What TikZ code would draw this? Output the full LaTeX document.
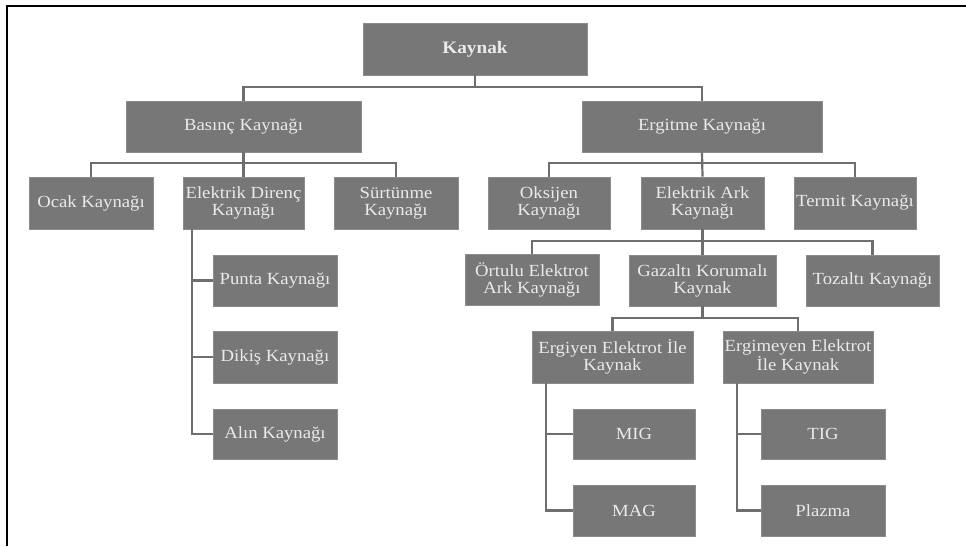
\documentclass[tikz,border=0pt]{standalone}
\usepackage{fontspec}
\setmainfont{Liberation Serif}[FakeStretch=1.1]
\definecolor{boxfill}{HTML}{777777}
\definecolor{boxedge}{HTML}{8C8C8C}
\definecolor{boxtext}{HTML}{EAEAEA}
\definecolor{linkcol}{HTML}{6E6E6E}
\tikzset{
  box/.style={rectangle, fill=boxfill, draw=boxedge, line width=0.8pt, text=boxtext,
    align=center, inner sep=0pt, font=\fontsize{17}{17}\selectfont},
  link/.style={draw=linkcol, line width=2.2pt},
  frameline/.style={draw=black, line width=2pt}
}
\begin{document}
\begin{tikzpicture}[x=1pt,y=-1pt]
\useasboundingbox (0,0) rectangle (966,546);
\fill[white] (0,0) rectangle (966,546);
\draw[frameline] (7,546) -- (7,6) -- (966,6);

% level 0
\node[box, minimum width=224pt, minimum height=52pt, font=\fontsize{17.5}{17}\selectfont\bfseries] (root) at (475,49) {Kaynak};
% level 1
\node[box, minimum width=235pt, minimum height=51pt] (bas) at (243.5,126.5) {Basınç Kaynağı};
\node[box, minimum width=240pt, minimum height=51pt] (erg) at (702,126.5) {Ergitme Kaynağı};
% level 2
\node[box, minimum width=124pt, minimum height=52pt] (ocak) at (91,203) {Ocak Kaynağı};
\node[box, minimum width=121pt, minimum height=52pt] (direnc) at (243.5,203) {Elektrik Direnç\\Kaynağı};
\node[box, minimum width=124pt, minimum height=52pt] (surt) at (396,203) {Sürtünme\\Kaynağı};
\node[box, minimum width=122pt, minimum height=52pt] (oks) at (549,203) {Oksijen\\Kaynağı};
\node[box, minimum width=123pt, minimum height=52pt] (ark) at (702.5,203) {Elektrik Ark\\Kaynağı};
\node[box, minimum width=122pt, minimum height=52pt] (termit) at (855,203) {Termit Kaynağı};
% direnc children
\node[box, minimum width=124pt, minimum height=51pt] (punta) at (275,280.5) {Punta Kaynağı};
\node[box, minimum width=124pt, minimum height=52pt] (dikis) at (275,357) {Dikiş Kaynağı};
\node[box, minimum width=124pt, minimum height=50pt] (alin) at (275,434) {Alın Kaynağı};
% ark children
\node[box, minimum width=134pt, minimum height=51pt] (ortulu) at (532,280) {Örtulu Elektrot\\Ark Kaynağı};
\node[box, minimum width=147pt, minimum height=51pt] (gaz) at (702.5,280.5) {Gazaltı Korumalı\\Kaynak};
\node[box, minimum width=133pt, minimum height=51pt] (toz) at (872.5,280.5) {Tozaltı Kaynağı};
% gaz children
\node[box, minimum width=161pt, minimum height=52pt] (ergiyen) at (612.5,357) {Ergiyen Elektrot İle\\Kaynak};
\node[box, minimum width=150pt, minimum height=52pt] (ergimeyen) at (798,357) {Ergimeyen Elektrot\\İle Kaynak};
% leaves
\node[box, minimum width=122pt, minimum height=50pt] (mig) at (634,434) {MIG};
\node[box, minimum width=122pt, minimum height=51pt] (mag) at (634,510.5) {MAG};
\node[box, minimum width=124pt, minimum height=50pt] (tig) at (823,434) {TIG};
\node[box, minimum width=124pt, minimum height=51pt] (plazma) at (823,510.5) {Plazma};

% connectors
\coordinate (b0) at (475,87);
\draw[link] (root.south) -- (b0);
\draw[link] (bas.north) |- (b0) -| (erg.north);

\coordinate (b1) at (243.5,163);
\draw[link] (bas.south) -- (direnc.north);
\draw[link] (ocak.north) |- (b1) -| (surt.north);

\coordinate (b2) at (702.5,163);
\draw[link] (erg.south) -- (ark.north);
\draw[link] (oks.north) |- (b2) -| (termit.north);

\coordinate (b3) at (702.5,241);
\draw[link] (ark.south) -- (gaz.north);
\draw[link] (ortulu.north) |- (b3) -| (toz.north);

\coordinate (b4) at (702.5,318);
\draw[link] (gaz.south) -- (b4);
\draw[link] (ergiyen.north) |- (b4) -| (ergimeyen.north);

\draw[link] ([xshift=9pt]direnc.south west) coordinate (d0) |- (alin.west);
\draw[link] (punta.west) -- (d0 |- punta.west);
\draw[link] (dikis.west) -- (d0 |- dikis.west);

\draw[link] ([xshift=14pt]ergiyen.south west) coordinate (e0) |- (mag.west);
\draw[link] (mig.west) -- (e0 |- mig.west);

\draw[link] ([xshift=14pt]ergimeyen.south west) coordinate (f0) |- (plazma.west);
\draw[link] (tig.west) -- (f0 |- tig.west);
\end{tikzpicture}
\end{document}
